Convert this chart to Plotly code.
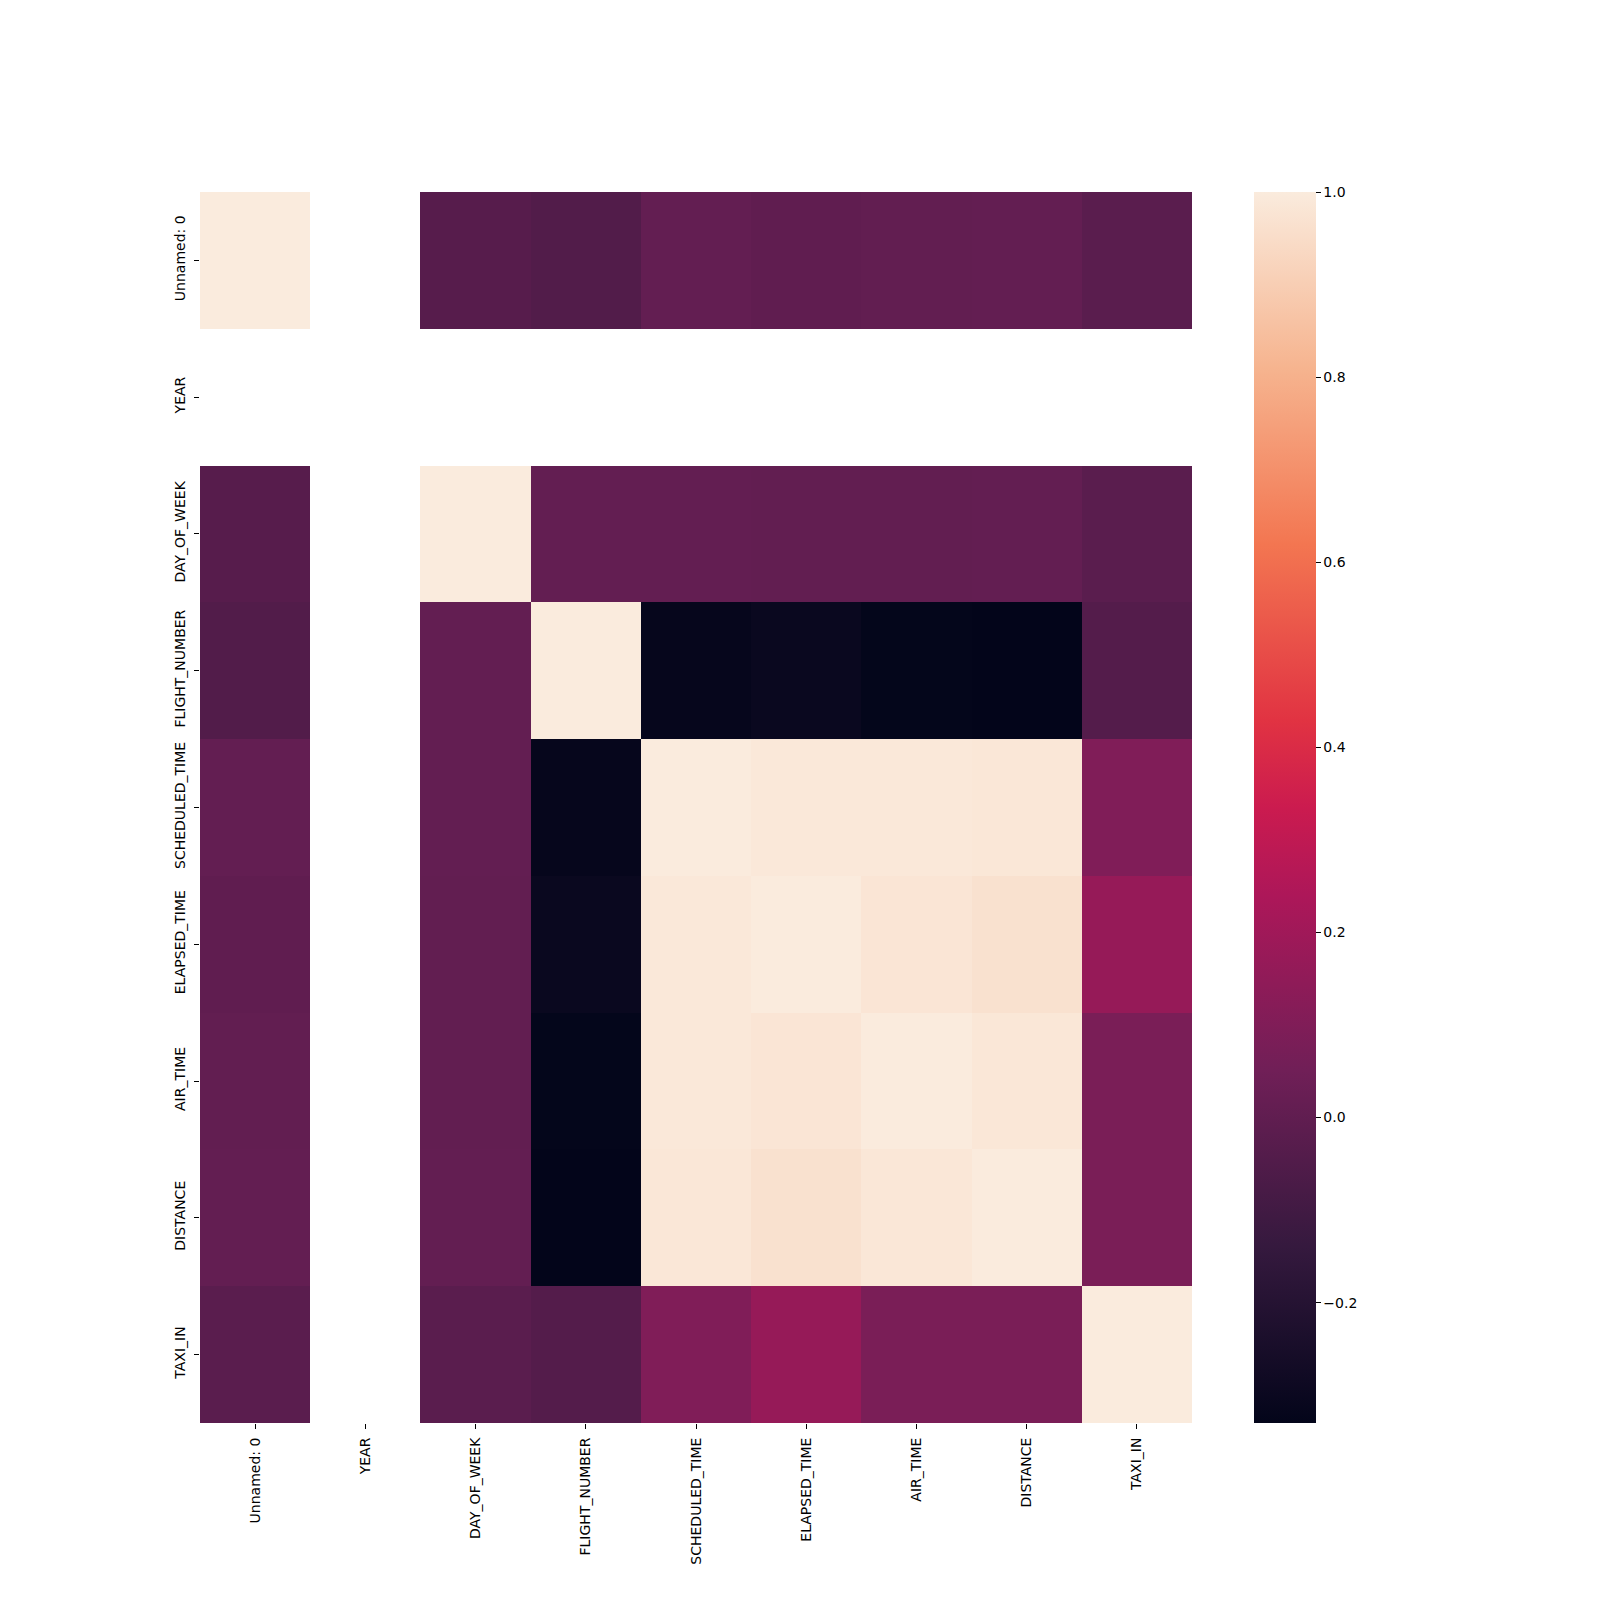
import plotly.graph_objects as go

labels = ["Unnamed: 0", "YEAR", "DAY_OF_WEEK", "FLIGHT_NUMBER", "SCHEDULED_TIME",
          "ELAPSED_TIME", "AIR_TIME", "DISTANCE", "TAXI_IN"]
nan = None
row_unnamed = [1.0, nan, -0.03, -0.045, 0.01, 0.0, 0.005, 0.01, -0.02]
row_year = [nan, nan, nan, nan, nan, nan, nan, nan, nan]
row_dow = [-0.03, nan, 1.0, 0.01, 0.01, 0.005, 0.005, 0.01, -0.02]
row_fn = [-0.045, nan, 0.01, 1.0, -0.32, -0.305, -0.325, -0.33, -0.04]
row_st = [0.01, nan, 0.01, -0.32, 1.0, 0.99, 0.99, 0.985, 0.10]
row_et = [0.0, nan, 0.005, -0.305, 0.99, 1.0, 0.98, 0.965, 0.17]
row_at = [0.005, nan, 0.005, -0.325, 0.99, 0.98, 1.0, 0.985, 0.08]
row_dist = [0.01, nan, 0.01, -0.33, 0.985, 0.965, 0.985, 1.0, 0.08]
row_taxi = [-0.02, nan, -0.02, -0.04, 0.10, 0.17, 0.08, 0.08, 1.0]
z = [row_unnamed, row_year, row_dow, row_fn, row_st, row_et, row_at, row_dist, row_taxi]

cbar_ticks = [-0.2, 0.0, 0.2, 0.4, 0.6, 0.8, 1.0]
cbar_text = [f"{v:.1f}".replace("-", "\u2212") for v in cbar_ticks]

rocket = [
    [0.0, "#03051a"],
    [0.143, "#35193e"],
    [0.286, "#701f57"],
    [0.429, "#ad1759"],
    [0.5, "#cb1b4f"],
    [0.571, "#e13342"],
    [0.714, "#f37651"],
    [0.857, "#f6b48f"],
    [1.0, "#faebdd"],
]

L, R, T, B = 200, 1192, 192, 1423
W = R - L
H = B - T

fig = go.Figure(go.Heatmap(
    z=z, x=labels, y=labels, colorscale=rocket, hoverongaps=False,
    colorbar=dict(
        thickness=62, thicknessmode="pixels", len=1, lenmode="fraction",
        x=(1254 - L) / W, xanchor="left", y=1, yanchor="top",
        xpad=0, ypad=0, outlinewidth=0,
        tickvals=cbar_ticks, ticktext=cbar_text,
        ticks="outside", ticklen=5, tickwidth=1, tickcolor="black",
        tickfont=dict(family="DejaVu Sans", size=14, color="black"),
    ),
))

axis_common = dict(showgrid=False, zeroline=False, showline=False,
                   ticks="outside", ticklen=5, tickwidth=1, tickcolor="black",
                   tickfont=dict(family="DejaVu Sans", size=14, color="black"),
                   tickangle=-90, ticklabelstandoff=3)

fig.update_layout(
    width=1600, height=1600,
    margin=dict(l=L, r=1600 - R, t=T, b=1600 - B, pad=0),
    paper_bgcolor="white", plot_bgcolor="white",
    xaxis=dict(**axis_common),
    yaxis=dict(**axis_common, autorange="reversed"),
)

fig.write_html("out.html")
